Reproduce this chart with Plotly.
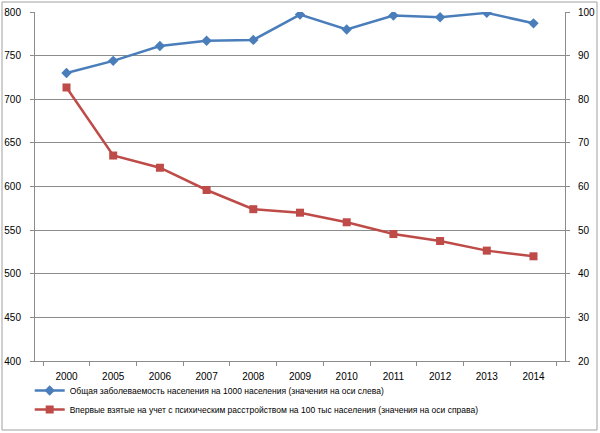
import plotly.graph_objects as go

years = ["2000", "2005", "2006", "2007", "2008", "2009", "2010", "2011", "2012", "2013", "2014"]
morbidity = [730, 744, 761, 767, 768, 797, 780, 796, 794, 799, 787]
mental = [82.7, 67.1, 64.3, 59.2, 54.8, 54.0, 51.8, 49.1, 47.5, 45.3, 44.0]
name1 = "Общая заболеваемость населения на 1000 населения (значения на оси слева)"
name2 = "Впервые взятые на учет с психическим расстройством на 100 тыс населения (значения на оси справа)"

W, H = 600, 433
L, R, T, B = 35, 35, 12, 72
pw, ph = W - L - R, H - T - B

fig = go.Figure()
fig.add_trace(go.Scatter(x=years, y=morbidity, name=name1, mode="lines+markers",
                         line=dict(color="#4A7EBB", width=2.5),
                         marker=dict(symbol="diamond", size=8, color="#4A7EBB")))
fig.add_trace(go.Scatter(x=years, y=mental, name=name2, mode="lines+markers", yaxis="y2",
                         line=dict(color="#BE4B48", width=2.5),
                         marker=dict(symbol="square", size=8, color="#BE4B48")))

font = dict(family="Liberation Sans", size=10, color="#000000")
fig.update_layout(
    template="none",
    width=W, height=H,
    margin=dict(l=L, r=R, t=T, b=B, autoexpand=False),
    paper_bgcolor="white", plot_bgcolor="white",
    font=font,
    showlegend=True,
    legend=dict(x=-0.01, y=-0.043, xanchor="left", yanchor="top", orientation="v",
                font=dict(family="Liberation Sans", size=8.5), tracegroupgap=7,
                bgcolor="rgba(0,0,0,0)"),
    xaxis=dict(type="category", showline=True, linecolor="#8c8c8c", linewidth=1,
               ticks="outside", tickson="boundaries", ticklen=4, tickcolor="#8c8c8c",
               ticklabelstandoff=6,
               showgrid=False, tickfont=font, automargin=False),
    yaxis=dict(range=[400, 800], dtick=50, showline=True, linecolor="#8c8c8c",
               ticks="outside", ticklen=4, tickcolor="#8c8c8c", automargin=False,
               ticklabelstandoff=7,
               gridcolor="#8c8c8c", gridwidth=1, zeroline=False, tickfont=font),
    yaxis2=dict(range=[20, 100], dtick=10, overlaying="y", side="right", showline=True,
                linecolor="#8c8c8c", ticks="outside", ticklen=4, tickcolor="#8c8c8c",
                ticklabelstandoff=6,
                showgrid=False, zeroline=False, tickfont=font, automargin=False),
    shapes=[dict(type="rect", xref="paper", yref="paper",
                 x0=(2 - L) / pw, x1=(W - 3 - L) / pw,
                 y0=-(H - 3 - T - ph) / ph, y1=1 + (T - 2) / ph,
                 line=dict(color="#a0a0a0", width=1), layer="below")],
)
fig.write_html("out.html", config={"displayModeBar": False},
               post_script="document.body.style.margin='0';")
